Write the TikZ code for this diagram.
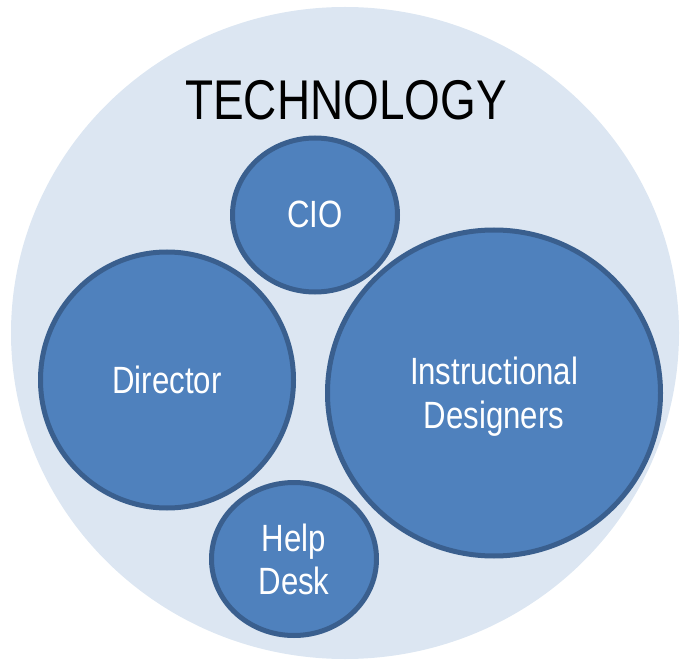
\documentclass[tikz,border=0pt]{standalone}
\usepackage{fontspec}
\setmainfont[FakeStretch=0.82]{Liberation Sans}
\usetikzlibrary{shapes.geometric}
\definecolor{bgblue}{HTML}{DCE6F2}
\definecolor{fillblue}{HTML}{4F81BD}
\definecolor{edgeblue}{HTML}{3A5F8E}
\tikzset{
  bubble/.style={ellipse, draw=edgeblue, fill=fillblue, line width=5pt, inner sep=0pt},
  btext/.style={anchor=base, text=white, font=\fontsize{38}{44}\selectfont, inner sep=0pt},
}
\begin{document}
\begin{tikzpicture}[x=1pt,y=-1pt]
\useasboundingbox (0,0) rectangle (680,660);
\begin{scope}
\clip (0,0) rectangle (680,660);
\fill[bgblue] (345,333) ellipse [x radius=334, y radius=326];
\end{scope}
\node[anchor=base, inner sep=0pt, font=\fontsize{56}{60}\selectfont] (title) at (346,120) {TECHNOLOGY};
\node[bubble, minimum width=165pt, minimum height=154pt] (cio) at (315,215) {};
\node[bubble, minimum width=253pt, minimum height=256pt] (dir) at (167,380) {};
\node[bubble, minimum width=333pt, minimum height=326pt] (ins) at (494,393) {};
\node[bubble, minimum width=165pt, minimum height=153pt] (help) at (294,559) {};
\node[btext] (ciot) at (315,228) {CIO};
\node[btext] (dirt) at (167,393) {Director};
\node[btext] (inst1) at (494,384) {Instructional};
\node[btext] (inst2) at (494,428) {Designers};
\node[btext] (help1) at (294,551) {Help};
\node[btext] (help2) at (294,594) {Desk};
\end{tikzpicture}
\end{document}
